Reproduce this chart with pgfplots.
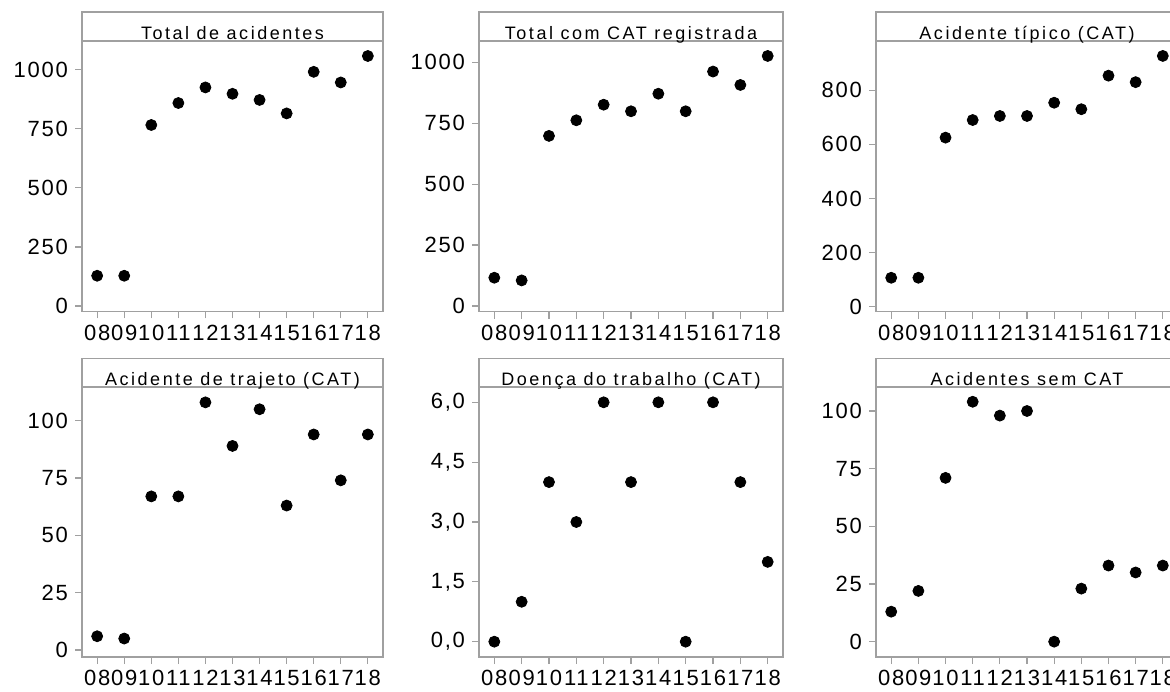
\documentclass[border=0pt]{standalone}
\usepackage{fontspec}
\setmainfont{Liberation Sans}
\usepackage{pgfplots}
\pgfplotsset{compat=1.18}
\definecolor{framegray}{RGB}{160,160,160}
\newcommand\ticksfont{\fontsize{11pt}{13pt}\selectfont\addfontfeatures{LetterSpace=8}}
\newcommand\titlefont{\fontsize{9pt}{11pt}\selectfont\addfontfeatures{LetterSpace=14}}
\pgfplotsset{
  panel/.style={
    scale only axis, anchor=south west,
    xmin=7.44, xmax=18.56,
    xtick={8,...,18}, xticklabels={08,09,10,11,12,13,14,15,16,17,18},
    xtick pos=bottom, ytick pos=left, tick align=outside,
    major tick length=3.5pt,
    axis line style={framegray, line width=0.6pt},
    every tick/.style={framegray, line width=0.6pt},
    tick label style={font=\ticksfont, text=black},
    xticklabel style={inner sep=0.5pt, yshift=-2.5pt},
    /pgf/number format/assume math mode=true,
    /pgf/number format/1000 sep={},
    clip=false,
  },
  pts/.style={only marks, mark=*, mark size=2.75pt, mark options={fill=black, draw=black}},
}
\newcommand\strip[2]{%
  \draw[framegray, line width=0.6pt] (rel axis cs:0,1) rectangle ([yshift=#1]rel axis cs:1,1);
  \node[anchor=base, font=\titlefont, inner sep=0pt] at ([yshift=0.8pt]rel axis cs:0.5,1) {#2};
}
\begin{document}
\begin{tikzpicture}
\useasboundingbox (0,0) rectangle (585pt,345.5pt);
\clip (0,0) rectangle (585pt,345.5pt);

% Panel 1
\begin{axis}[panel, at={(41pt,189.75pt)}, width=150.5pt, height=135.25pt,
  ymin=-23.3, ymax=1121.5, ytick={0,250,500,750,1000}]
\addplot[pts] coordinates {(8,128) (9,128) (10,766) (11,859) (12,925) (13,898) (14,872) (15,815) (16,991) (17,946) (18,1058)};
\strip{14.5pt}{Total de acidentes}
\end{axis}

% Panel 2
\begin{axis}[panel, at={(239.5pt,189.75pt)}, width=152pt, height=135.25pt,
  ymin=-22.6, ymax=1087.4, ytick={0,250,500,750,1000}]
\addplot[pts] coordinates {(8,116) (9,105) (10,698) (11,762) (12,826) (13,799) (14,871) (15,799) (16,962) (17,907) (18,1026)};
\strip{14.5pt}{Total com CAT registrada}
\end{axis}

% Panel 3
\begin{axis}[panel, at={(438pt,189.75pt)}, width=151pt, height=135.25pt,
  ymin=-17.7, ymax=982.2, ytick={0,200,400,600,800}]
\addplot[pts] coordinates {(8,107) (9,107) (10,625) (11,690) (12,705) (13,705) (14,754) (15,730) (16,854) (17,830) (18,927)};
\strip{14.5pt}{Acidente típico (CAT)}
\end{axis}

% Panel 4
\begin{axis}[panel, at={(41pt,17pt)}, width=150.5pt, height=135pt,
  ymin=-3.05, ymax=114.7, ytick={0,25,50,75,100}]
\addplot[pts] coordinates {(8,6) (9,5) (10,67) (11,67) (12,108) (13,89) (14,105) (15,63) (16,94) (17,74) (18,94)};
\strip{14.2pt}{Acidente de trajeto (CAT)}
\end{axis}

% Panel 5
\begin{axis}[panel, at={(239.5pt,17pt)}, width=152pt, height=135pt,
  ymin=-0.384, ymax=6.384, ytick={0,1.5,3,4.5,6},
  yticklabel style={/pgf/number format/.cd, fixed, fixed zerofill, precision=1, use comma}]
\addplot[pts] coordinates {(8,0) (9,1) (10,4) (11,3) (12,6) (13,4) (14,6) (15,0) (16,6) (17,4) (18,2)};
\strip{14.2pt}{Doença do trabalho (CAT)}
\end{axis}

% Panel 6
\begin{axis}[panel, at={(438pt,17pt)}, width=151pt, height=135pt,
  ymin=-6.65, ymax=110.4, ytick={0,25,50,75,100}]
\addplot[pts] coordinates {(8,13) (9,22) (10,71) (11,104) (12,98) (13,100) (14,0) (15,23) (16,33) (17,30) (18,33)};
\strip{14.2pt}{Acidentes sem CAT}
\end{axis}
\end{tikzpicture}
\end{document}
